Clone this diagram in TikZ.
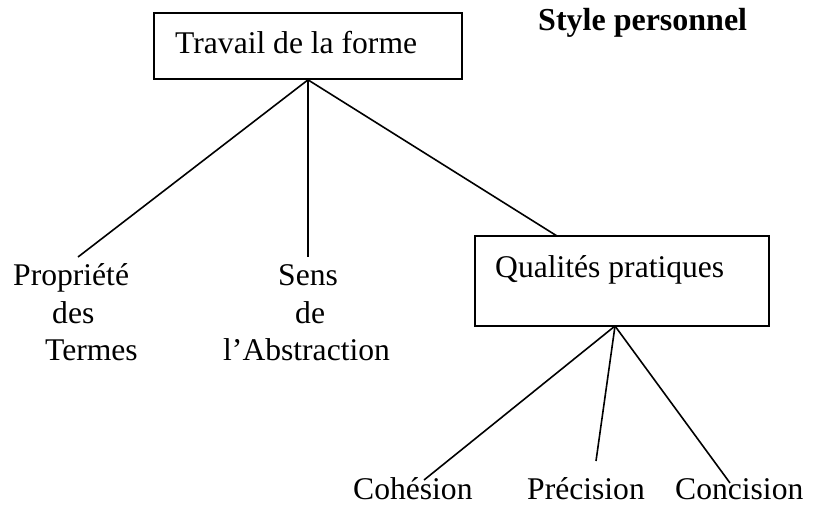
\documentclass[tikz,border=0pt]{standalone}
\usepackage{fontspec}
\setmainfont{Liberation Serif}
\begin{document}
\begin{tikzpicture}[x=1pt,y=-1pt,
  lbl/.style={inner sep=0pt,anchor=base west,font=\fontsize{31.6}{37}\selectfont},
  boxshape/.style={draw,line width=1.7pt,rectangle,inner sep=0pt},
  conn/.style={line width=1.6pt}]
\useasboundingbox (0,0) rectangle (821,504);
% boxes
\node[boxshape,minimum width=308pt,minimum height=66pt] (box1) at (308,46) {};
\node[boxshape,minimum width=294pt,minimum height=90pt] (box2) at (622,281) {};
% texts
\node[lbl] (travail) at (175,53) {Travail de la forme};
\node[lbl] (qualites) at (495,277) {Qualités pratiques};
\node[lbl,font=\fontsize{32}{37}\selectfont\bfseries] (style) at (538,30) {Style personnel};
\node[lbl] (prop1) at (13,285) {Propriété};
\node[lbl] (prop2) at (52,323) {des};
\node[lbl] (prop3) at (45,360) {Termes};
\node[lbl] (sens1) at (278,285) {Sens};
\node[lbl] (sens2) at (295,323) {de};
\node[lbl] (sens3) at (223,360) {l’Abstraction};
\node[lbl] (coh) at (353,499) {Cohésion};
\node[lbl] (pre) at (527,499) {Précision};
\node[lbl] (con) at (675,499) {Concision};
% connector endpoints
\coordinate (top) at (box1.south);
\coordinate (pend) at (78,257);
\coordinate (send) at (308,257);
\coordinate (qend) at (557,236);
\coordinate (qbot) at (615,326);
\coordinate (cohend) at (424,480);
\coordinate (preend) at (596,461);
\coordinate (conend) at (730,483);
% connectors
\draw[conn] (top) -- (pend);
\draw[conn] (top) -- (send);
\draw[conn] (top) -- (qend);
\draw[conn] (qbot) -- (cohend);
\draw[conn] (qbot) -- (preend);
\draw[conn] (qbot) -- (conend);
\end{tikzpicture}
\end{document}
